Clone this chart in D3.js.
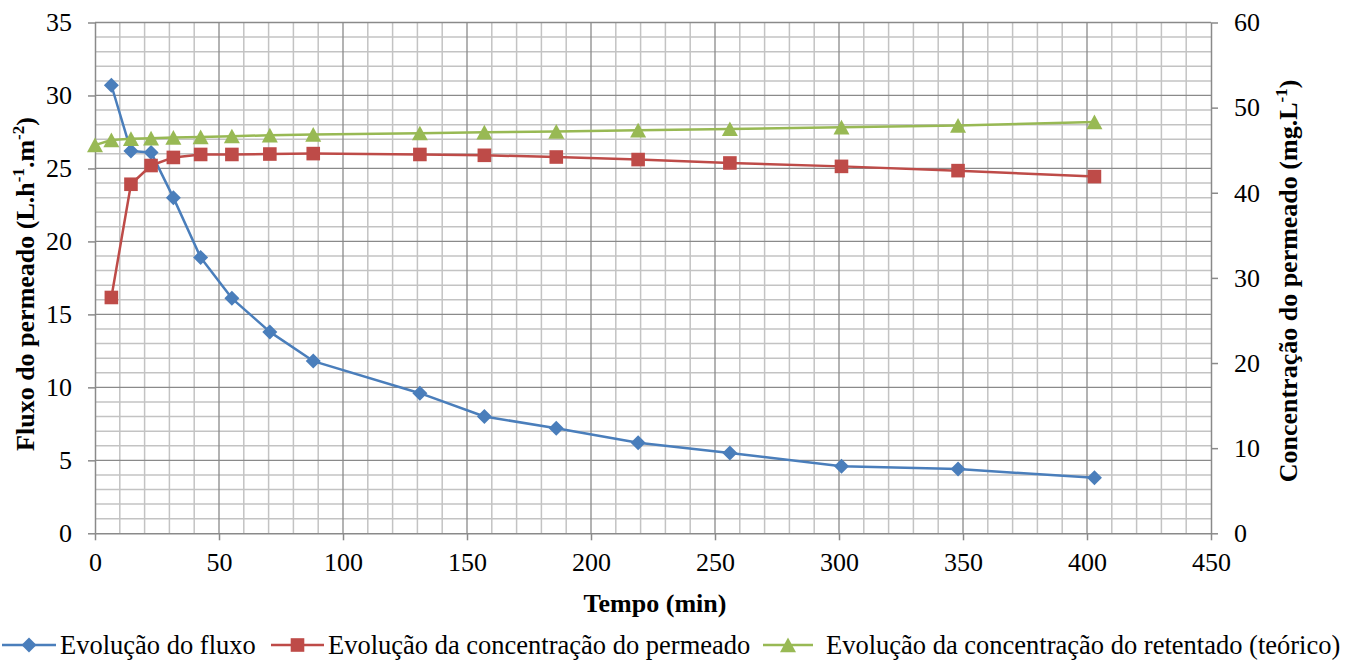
<!DOCTYPE html>
<html>
<head>
<meta charset="utf-8">
<script src="https://cdn.jsdelivr.net/npm/d3@7"></script>
<style>
  body { margin: 0; background: #fff; }
  svg { display: block; }
  text { font-family: "Liberation Serif", "Times New Roman", serif; fill: #000; }
</style>
</head>
<body>
<svg id="chart" width="1362" height="662"></svg>
<script>
// ---- data ----
const tempo = [6.6, 14.5, 22.6, 31.6, 42.6, 55.2, 70.5, 88, 131, 157, 186, 219, 256, 301, 348, 403];
const fluxo = [30.7, 26.2, 26.1, 23.0, 18.9, 16.1, 13.8, 11.8, 9.6, 8.0, 7.2, 6.2, 5.5, 4.6, 4.4, 3.8];
const concPermeado = [27.7, 41.0, 43.2, 44.15, 44.5, 44.5, 44.55, 44.6, 44.5, 44.4, 44.2, 43.9, 43.5, 43.1, 42.6, 41.9];
const tempoRetentado = [0, 6.6, 14.5, 22.6, 31.6, 42.6, 55.2, 70.5, 88, 131, 157, 186, 219, 256, 301, 348, 403];
const concRetentado = [45.6, 46.2, 46.35, 46.4, 46.5, 46.55, 46.65, 46.75, 46.85, 47.0, 47.1, 47.2, 47.35, 47.5, 47.7, 47.9, 48.3];

const xTicks = [0, 50, 100, 150, 200, 250, 300, 350, 400, 450];
const yLeftTicks = [0, 5, 10, 15, 20, 25, 30, 35];
const yRightTicks = [0, 10, 20, 30, 40, 50, 60];
const seriesNames = ["Evolução do fluxo", "Evolução da concentração do permeado", "Evolução da concentração do retentado (teórico)"];

// ---- layout ----
const svg = d3.select("#chart");
const L = 95, R = 1211, T = 22.5, B = 533.3;
const x = d3.scaleLinear().domain([0, 450]).range([L, R]);
const yL = d3.scaleLinear().domain([0, 35]).range([B, T]);
const yR = d3.scaleLinear().domain([0, 60]).range([B, T]);

const minorCol = "#c3c3c3", majorCol = "#8a8a8a";
const FONT = '"Liberation Serif", "Times New Roman", serif';

// minor grid
const g = svg.append("g");
g.selectAll(".vmin").data(d3.range(0, 451, 10).filter(v => v % 50 !== 0)).join("line")
  .attr("x1", d => x(d)).attr("x2", d => x(d)).attr("y1", T).attr("y2", B)
  .attr("stroke", minorCol).attr("stroke-width", 1.5);
g.selectAll(".hmin").data(d3.range(0, 36, 1).filter(v => v % 5 !== 0)).join("line")
  .attr("x1", L).attr("x2", R).attr("y1", d => yL(d)).attr("y2", d => yL(d))
  .attr("stroke", minorCol).attr("stroke-width", 1.5);
// major grid
g.selectAll(".vmaj").data(xTicks.slice(1, -1)).join("line")
  .attr("x1", d => x(d)).attr("x2", d => x(d)).attr("y1", T).attr("y2", B)
  .attr("stroke", majorCol).attr("stroke-width", 1.3);
g.selectAll(".hmaj").data(yLeftTicks.slice(1)).join("line")
  .attr("x1", L).attr("x2", R).attr("y1", d => yL(d)).attr("y2", d => yL(d))
  .attr("stroke", majorCol).attr("stroke-width", 1.3);

// axes
const axX = svg.append("g").attr("transform", `translate(0,${B})`)
  .call(d3.axisBottom(x).tickValues(xTicks).tickSize(7).tickSizeOuter(0).tickPadding(12));
const axL = svg.append("g").attr("transform", `translate(${L},0)`)
  .call(d3.axisLeft(yL).tickValues(yLeftTicks).tickSize(7).tickSizeOuter(0).tickPadding(16));
const axR = svg.append("g").attr("transform", `translate(${R},0)`)
  .call(d3.axisRight(yR).tickValues(yRightTicks).tickSize(7).tickSizeOuter(0).tickPadding(16));
[axX, axL, axR].forEach(a => {
  a.attr("font-family", FONT).attr("font-size", 26);
  a.select(".domain").attr("stroke", majorCol).attr("stroke-width", 1.5);
  a.selectAll(".tick line").attr("stroke", majorCol).attr("stroke-width", 1.5);
  a.selectAll(".tick text").style("font-family", FONT).style("font-size", "26px").attr("fill", "#000");
});

// series
const blue = "#4a7ebb", red = "#be4b48", green = "#98b954";
const lineL = d3.line().x(d => x(d[0])).y(d => yL(d[1]));
const lineR = d3.line().x(d => x(d[0])).y(d => yR(d[1]));
const dFlux = tempo.map((t, i) => [t, fluxo[i]]);
const dPerm = tempo.map((t, i) => [t, concPermeado[i]]);
const dRet = tempoRetentado.map((t, i) => [t, concRetentado[i]]);

const diamond = "M0,-7.5L7.5,0L0,7.5L-7.5,0Z";
const square = "M-6.8,-6.8H6.8V6.8H-6.8Z";
const triangle = "M0,-7.5L8,7.2L-8,7.2Z";

function drawSeries(data, line, yScale, color, shape) {
  svg.append("path").datum(data).attr("d", line)
    .attr("fill", "none").attr("stroke", color).attr("stroke-width", 2.5).attr("stroke-linejoin", "round");
  svg.append("g").selectAll("path").data(data).join("path")
    .attr("d", shape).attr("fill", color)
    .attr("transform", d => `translate(${x(d[0])},${yScale(d[1])})`);
}
drawSeries(dFlux, lineL, yL, blue, diamond);
drawSeries(dPerm, lineR, yR, red, square);
drawSeries(dRet, lineR, yR, green, triangle);

// axis titles
const titleStyle = t => t.style("font-family", FONT).style("font-size", "26px").style("font-weight", "bold");
svg.append("text").attr("x", 655).attr("y", 612).attr("text-anchor", "middle")
  .call(titleStyle).text("Tempo (min)");

const lt = svg.append("text").attr("transform", "translate(34,284) rotate(-90)").attr("text-anchor", "middle").call(titleStyle);
lt.append("tspan").text("Fluxo do permeado (L.h");
lt.append("tspan").attr("dy", -10).style("font-size", "17px").text("-1");
lt.append("tspan").attr("dy", 10).text(".m");
lt.append("tspan").attr("dy", -10).style("font-size", "17px").text("-2");
lt.append("tspan").attr("dy", 10).text(")");

const rt = svg.append("text").attr("transform", "translate(1297,281) rotate(-90)").attr("text-anchor", "middle").call(titleStyle);
rt.append("tspan").text("Concentração do permeado (mg.L");
rt.append("tspan").attr("dy", -10).style("font-size", "17px").text("-1");
rt.append("tspan").attr("dy", 10).text(")");

// legend
const legY = 645;
const legItems = [
  { x0: 2, x1: 56, name: seriesNames[0], color: blue, shape: diamond, tx: 60 },
  { x0: 271, x1: 324, name: seriesNames[1], color: red, shape: square, tx: 328 },
  { x0: 763, x1: 813, name: seriesNames[2], color: green, shape: triangle, tx: 826 }
];
const lg = svg.append("g");
legItems.forEach(it => {
  lg.append("line").attr("x1", it.x0).attr("x2", it.x1).attr("y1", legY).attr("y2", legY)
    .attr("stroke", it.color).attr("stroke-width", 2.5);
  lg.append("path").attr("d", it.shape).attr("fill", it.color)
    .attr("transform", `translate(${(it.x0 + it.x1) / 2},${legY})`);
  lg.append("text").attr("x", it.tx).attr("y", legY + 9)
    .style("font-family", FONT).style("font-size", "26.5px").text(it.name);
});
</script>
</body>
</html>
